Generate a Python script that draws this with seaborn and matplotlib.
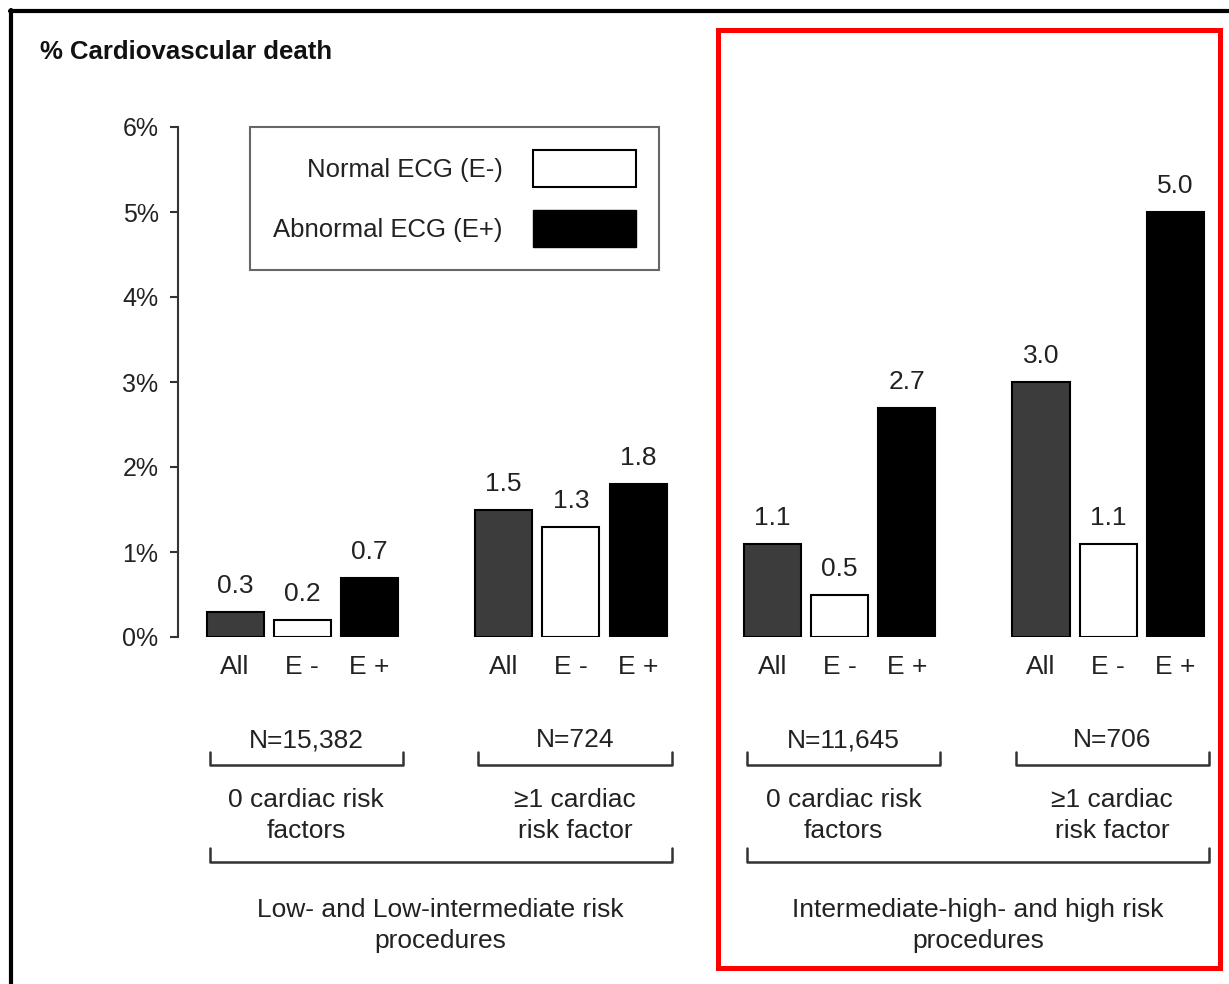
import matplotlib
matplotlib.use("Agg")
import matplotlib.pyplot as plt
from matplotlib.patches import Patch, Rectangle
from matplotlib.lines import Line2D
import pandas as pd
import seaborn as sns

sns.set_style("white")
plt.rcParams['font.family'] = ['Liberation Sans', 'DejaVu Sans']

# data
kinds = ["All", "E-", "E+"]
tick_labels = ["All", "E -", "E +"]
all_vals = [0.3, 1.5, 1.1, 3.0]
eneg_vals = [0.2, 1.3, 0.5, 1.1]
epos_vals = [0.7, 1.8, 2.7, 5.0]
n_labels = ["N=15,382", "N=724", "N=11,645", "N=706"]
risk_labels = ["0 cardiac risk\nfactors", "\u22651 cardiac\nrisk factor",
               "0 cardiac risk\nfactors", "\u22651 cardiac\nrisk factor"]
proc_labels = ["Low- and Low-intermediate risk\nprocedures",
               "Intermediate-high- and high risk\nprocedures"]
colors = {"All": "#3c3c3c", "E-": "white", "E+": "black"}

rows = []
for g in range(4):
    for i, (k, v) in enumerate(zip(kinds, [all_vals[g], eneg_vals[g], epos_vals[g]])):
        rows.append({"pos": g * 4 + i, "kind": k, "value": v})
df = pd.DataFrame(rows)

fig = plt.figure(figsize=(12.29, 9.84), dpi=100)
ax = fig.add_axes([178 / 1229, 347 / 984, 1041 / 1229, 510 / 984])

sns.barplot(data=df, x="pos", y="value", hue="kind", palette=colors,
            native_scale=True, dodge=False, width=0.85, edgecolor="black",
            linewidth=1.5, legend=False, ax=ax)

txt = "#222222"
fs = 19
for _, r in df.iterrows():
    ax.annotate(f"{r['value']:.1f}", (r["pos"], r["value"]), xytext=(0, 10),
                textcoords="offset points", ha="center", va="bottom",
                fontsize=fs, color=txt)

ax.set_xlim(-0.85, 14.65)
ax.set_ylim(0, 6)
ax.set_xticks(df["pos"])
ax.set_xticklabels(tick_labels * 4)
ax.set_yticks(range(7))
ax.set_yticklabels([f"{i}%" for i in range(7)])
ax.tick_params(axis="x", length=0, pad=13, labelsize=fs, labelcolor=txt)
ax.tick_params(axis="y", left=True, direction="out", length=6, width=1.5,
               color="#333333", pad=8, labelsize=18, labelcolor=txt)
ax.set_xlabel("")
ax.set_ylabel("")
for s in ["top", "right", "bottom"]:
    ax.spines[s].set_visible(False)
ax.spines["left"].set_color("#333333")
ax.spines["left"].set_linewidth(1.5)


def bracket(x0, x1, y, yt):
    ax.add_line(Line2D([x0, x0, x1, x1], [yt, y, y, yt], color="#333333",
                       lw=1.8, clip_on=False))


for g in range(4):
    x0, x1 = g * 4 - 0.38, g * 4 + 2.5
    bracket(x0, x1, -1.506, -1.353)
    xc = (x0 + x1) / 2
    ax.text(xc, -1.212, n_labels[g], ha="center", va="center", fontsize=fs,
            color=txt, clip_on=False)
    ax.text(xc, -2.1, risk_labels[g], ha="center", va="center", fontsize=fs,
            color=txt, clip_on=False, linespacing=1.38)

for p in range(2):
    x0, x1 = p * 8 - 0.38, p * 8 + 6.5
    bracket(x0, x1, -2.647, -2.482)
    ax.text((x0 + x1) / 2, -3.394, proc_labels[p], ha="center", va="center",
            fontsize=fs, color=txt, clip_on=False, linespacing=1.38)

handles = [Patch(facecolor="white", edgecolor="black", linewidth=1.5,
                 label="Normal ECG (E-)"),
           Patch(facecolor="black", edgecolor="black", label="Abnormal ECG (E+)")]
leg = ax.legend(handles=handles, loc="upper left",
                bbox_to_anchor=(250 / 1229, 1 - 127 / 984),
                bbox_transform=fig.transFigure, borderaxespad=0,
                markerfirst=False, fontsize=18.5, handlelength=4.0,
                handleheight=1.84, handletextpad=1.2, labelspacing=0.9,
                borderpad=0.9, fancybox=False, framealpha=1,
                edgecolor="#666666")
leg.get_frame().set_linewidth(1.5)
for t in leg.get_texts():
    t.set_color(txt)

fig.text(40 / 1229, 1 - 52 / 984, "% Cardiovascular death", ha="left",
         va="center", fontsize=18.5, fontweight="bold", color="#111111")

# highlight box and outer frame
fig.add_artist(Rectangle((718 / 1229, 1 - 968 / 984), 502 / 1229, 938 / 984,
                         transform=fig.transFigure, fill=False,
                         edgecolor="red", lw=3.6))
fig.add_artist(Line2D([11 / 1229, 11 / 1229], [0, 1 - 10 / 984],
                      transform=fig.transFigure, color="black", lw=3))
fig.add_artist(Line2D([10 / 1229, 1], [1 - 11 / 984, 1 - 11 / 984],
                      transform=fig.transFigure, color="black", lw=3))

fig.savefig("out.png", dpi=100)
